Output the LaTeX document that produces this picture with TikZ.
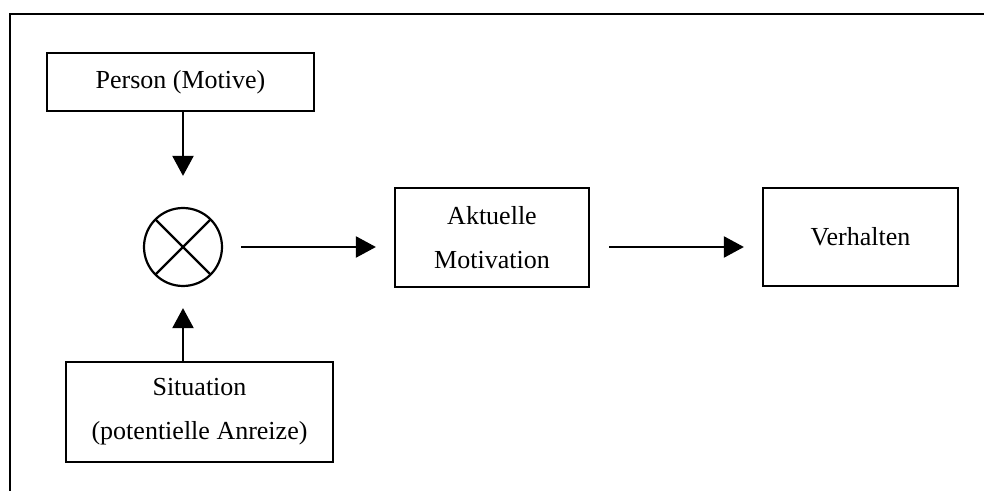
\documentclass[tikz,border=0pt]{standalone}
\usepackage{fontspec}
\setmainfont{Liberation Serif}
\usetikzlibrary{arrows.meta,positioning}

\begin{document}
\begin{tikzpicture}[
 x=0.5pt, y=-0.5pt,
 box/.style={draw, line width=1.1pt, font=\fontsize{13}{22}\selectfont, align=center, inner sep=0pt},
 knot/.style={draw, circle, line width=1.1pt, minimum size=39pt, inner sep=0pt,
   path picture={\draw[line width=1.1pt] (path picture bounding box.north west) -- (path picture bounding box.south east)
                 (path picture bounding box.north east) -- (path picture bounding box.south west);}},
 arr/.style={-{Triangle[length=10pt,width=10.5pt]}, line width=1.1pt},
]
 \useasboundingbox (0,0) rectangle (984,491);
 %
 \draw[line width=1.1pt] (984,14) -- (10,14) -- (10,491);
 %
 \node[box, minimum width=133.5pt, minimum height=29pt] (person) at (180.5,82) {Person (Motive)};
 \node[knot] (mult) at (183,247) {};
 \node[box, minimum width=133.5pt, minimum height=50pt] (sit) at (199.5,412) {Situation\\(potentielle Anreize)};
 \node[box, minimum width=97pt, minimum height=49.5pt] (akt) at (492,237.5) {Aktuelle\\Motivation};
 \node[box, minimum width=97.5pt, minimum height=49pt] (verh) at (860.5,237) {Verhalten};

 %
 \draw[arr, shorten >=15.5pt] (person.south -| mult) -- (mult.north);
 \draw[arr, shorten >=10.5pt] (sit.north -| mult) -- (mult.south);
 \draw[arr, shorten <=9pt, shorten >=9pt] (mult.east) -- (mult.east -| akt.west);
 \draw[arr, shorten <=9.5pt, shorten >=9pt] (mult.east -| akt.east) -- (mult.east -| verh.west);
\end{tikzpicture}
\end{document}
